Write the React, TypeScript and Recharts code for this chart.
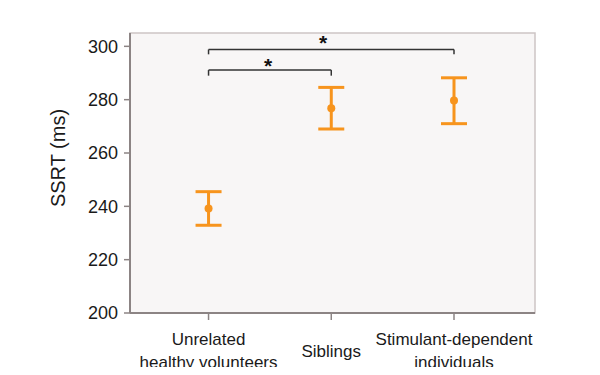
import React from "react";
import {
  ComposedChart,
  Scatter,
  ErrorBar,
  XAxis,
  YAxis,
  ReferenceArea,
  ReferenceLine,
  ReferenceDot,
  Label,
} from "recharts";

const groups = ["Unrelated\nhealthy volunteers", "Siblings", "Stimulant-dependent\nindividuals"];
const means = [239.2, 276.8, 279.7];
const lows = [232.9, 269.0, 271.0];
const highs = [245.5, 284.6, 288.2];
const yTicks = [200, 220, 240, 260, 280, 300];

const bracketFrom = [0, 0];
const bracketTo = [1, 2];
const bracketY = [291.1, 298.8];
const bracketDrop = [289.0, 297.0];
const starX = [0.485, 0.933];
const starY = [294.1, 302.7];

const data = groups.map((g, i) => ({
  x: i,
  mean: means[i],
  err: [means[i] - lows[i], highs[i] - means[i]],
}));

const ORANGE = "#f7941d";
const FONT = "'Liberation Sans', Arial, Helvetica, sans-serif";

const XTick = (props: any) => {
  const { x, y, payload } = props;
  const lines = String(groups[payload.value] ?? "").split("\n");
  const lineH = 23;
  const baseY = lines.length === 1 ? y + 23 + lineH / 2 : y + 23;
  return (
    <g>
      {lines.map((l, i) => (
        <text
          key={i}
          x={x}
          y={baseY + i * lineH}
          textAnchor="middle"
          fontSize={17}
          fontFamily={FONT}
          fill="#1a1a1a"
        >
          {l}
        </text>
      ))}
    </g>
  );
};

const Dot = (props: any) => {
  const { cx, cy } = props;
  return <circle cx={cx} cy={cy} r={4} fill={ORANGE} />;
};

const Star = (props: any) => {
  const { cx, cy } = props;
  return (
    <text
      x={cx}
      y={cy + 11}
      textAnchor="middle"
      fontSize={21}
      fontWeight="bold"
      fontFamily={FONT}
      fill="#111"
    >
      *
    </text>
  );
};

export default function App() {
  return (
    <div style={{ margin: -8, background: "#fff", width: 600, height: 375 }}>
      <ComposedChart
        width={600}
        height={375}
        data={data}
        margin={{ top: 33, right: 65, bottom: 0, left: 0 }}
      >
        <ReferenceArea
          x1={-0.64}
          x2={2.66}
          y1={200}
          y2={305}
          fill="#f8f6f6"
          fillOpacity={1}
          stroke="#cdc5c5"
          strokeWidth={1.5}
          ifOverflow="visible"
        />
        <XAxis
          type="number"
          dataKey="x"
          domain={[-0.64, 2.66]}
          ticks={[0, 1, 2]}
          allowDataOverflow
          height={62}
          axisLine={{ stroke: "#8c8484", strokeWidth: 2 }}
          tickLine={{ stroke: "#8c8484", strokeWidth: 1.5 }}
          tickSize={7}
          tick={<XTick />}
          interval={0}
        />
        <YAxis
          type="number"
          domain={[200, 305]}
          ticks={yTicks}
          allowDataOverflow
          width={130}
          axisLine={{ stroke: "#8c8484", strokeWidth: 2 }}
          tickLine={{ stroke: "#8c8484", strokeWidth: 1.5 }}
          tickSize={6}
          tickMargin={6}
          tick={{ fontSize: 18, fontFamily: FONT, fill: "#1a1a1a" }}
        >
          <Label
            value="SSRT (ms)"
            angle={-90}
            position="insideLeft"
            offset={58}
            dy={-15}
            style={{ fontSize: 20, fontFamily: FONT, fill: "#1a1a1a", textAnchor: "middle" }}
          />
        </YAxis>
        {bracketFrom.map((f, i) => (
          <ReferenceLine
            key={"b" + i}
            segment={[
              { x: f, y: bracketY[i] },
              { x: bracketTo[i], y: bracketY[i] },
            ]}
            stroke="#333"
            strokeWidth={1.5}
            ifOverflow="visible"
          />
        ))}
        {bracketFrom.map((f, i) => (
          <ReferenceLine
            key={"l" + i}
            segment={[
              { x: f, y: bracketY[i] },
              { x: f, y: bracketDrop[i] },
            ]}
            stroke="#333"
            strokeWidth={1.5}
            ifOverflow="visible"
          />
        ))}
        {bracketTo.map((t, i) => (
          <ReferenceLine
            key={"r" + i}
            segment={[
              { x: t, y: bracketY[i] },
              { x: t, y: bracketDrop[i] },
            ]}
            stroke="#333"
            strokeWidth={1.5}
            ifOverflow="visible"
          />
        ))}
        {starX.map((sx, i) => (
          <ReferenceDot
            key={"s" + i}
            x={sx}
            y={starY[i]}
            r={0}
            ifOverflow="visible"
            shape={<Star />}
          />
        ))}
        <Scatter dataKey="mean" fill={ORANGE} shape={<Dot />} isAnimationActive={false}>
          <ErrorBar
            dataKey="err"
            direction="y"
            width={13}
            strokeWidth={3}
            stroke={ORANGE}
          />
        </Scatter>
      </ComposedChart>
    </div>
  );
}
